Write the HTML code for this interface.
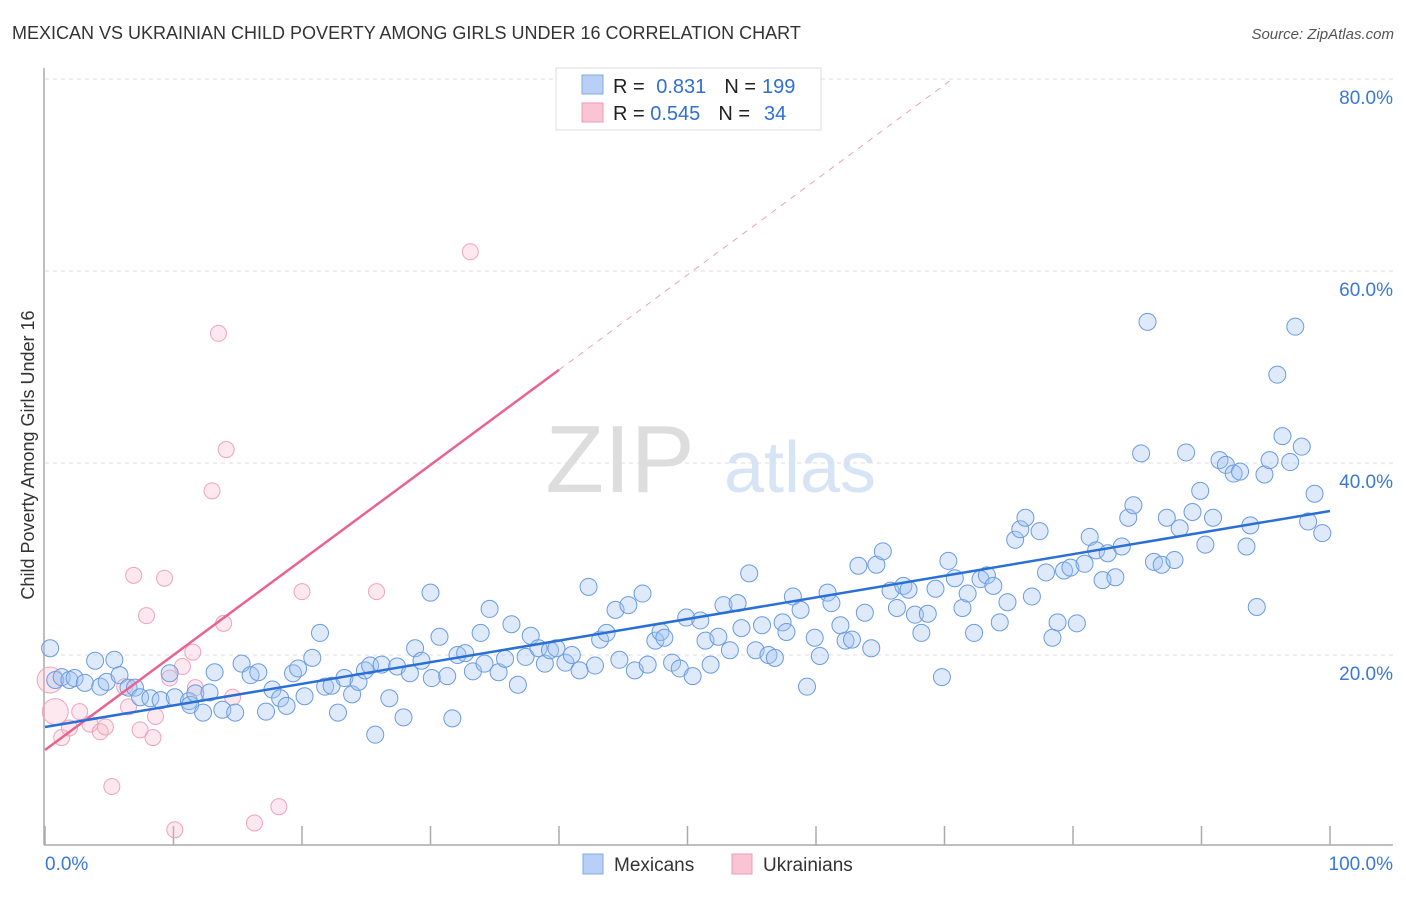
<!DOCTYPE html>
<html><head><meta charset="utf-8"><style>
body{margin:0;background:#fff;font-family:"Liberation Sans",sans-serif;}
svg text{font-family:"Liberation Sans",sans-serif;}
</style></head><body>
<svg id="chart" width="1406" height="892" xmlns="http://www.w3.org/2000/svg">
<text x="12" y="39" font-size="18" fill="#333">MEXICAN VS UKRAINIAN CHILD POVERTY AMONG GIRLS UNDER 16 CORRELATION CHART</text>
<text x="1394" y="39" font-size="15" fill="#555" font-style="italic" text-anchor="end">Source: ZipAtlas.com</text>
<text x="620" y="492" font-size="96" fill="#ddd" font-family="Liberation Serif" text-anchor="middle">ZIP</text>
<text x="800" y="492" font-size="72" fill="#d6e4f5" text-anchor="middle">atlas</text>
<g id="grid"></g>
<g id="marks"></g>
<text transform="translate(34,455) rotate(-90)" font-size="18" fill="#333" text-anchor="middle">Child Poverty Among Girls Under 16</text>
<g>
<rect x="556" y="68" width="265" height="62" fill="#fff" stroke="#ddd"/>
<rect x="582" y="75" width="21" height="19" fill="#b8d0f5" stroke="#80a8e8"/>
<rect x="582" y="103" width="21" height="19" fill="#f9c4d4" stroke="#ee9ab4"/>
<text x="613" y="93" font-size="20" fill="#222">R = <tspan fill="#2f6fd4" dx="6">0.831</tspan><tspan dx="18" fill="#222">N =</tspan><tspan fill="#2f6fd4" dx="6">199</tspan></text>
<text x="613" y="120" font-size="20" fill="#222">R = <tspan fill="#2f6fd4">0.545</tspan><tspan dx="18" fill="#222">N =</tspan><tspan fill="#2f6fd4" dx="14">34</tspan></text>
</g>
<g>
<rect x="583" y="854" width="20" height="20" fill="#b8d0f5" stroke="#80a8e8"/>
<text x="614" y="871" font-size="19" fill="#333">Mexicans</text>
<rect x="732" y="854" width="20" height="20" fill="#f9c4d4" stroke="#ee9ab4"/>
<text x="763" y="871" font-size="19" fill="#333">Ukrainians</text>
</g>
</svg>
<script>
const yTicks=[20,40,60,80];
const yTickLabels=["20.0%","40.0%","60.0%","80.0%"];
const xTicks=[0,10,20,30,40,50,60,70,80,90,100];
const mexX=[0.4,0.8,1.3,1.9,2.3,3.1,3.9,4.3,4.8,5.4,5.8,6.5,7.0,7.4,8.2,9.0,9.7,10.1,11.2,11.3,11.7,12.3,12.8,13.2,13.8,14.8,15.3,16.0,16.6,17.2,17.7,18.3,18.8,19.3,19.7,20.2,20.8,21.4,21.8,22.3,22.8,23.3,23.9,24.4,24.9,25.3,25.7,26.2,26.8,27.4,27.9,28.4,28.8,29.3,30.0,30.1,30.7,31.3,31.7,32.1,32.7,33.3,33.9,34.2,34.6,35.3,35.8,36.3,36.8,37.4,37.8,38.4,38.9,39.3,39.8,40.5,41.0,41.6,42.3,42.8,43.2,43.7,44.4,44.7,45.4,45.9,46.5,46.9,47.5,47.9,48.2,48.8,49.4,49.9,50.4,51.0,51.4,51.8,52.4,52.8,53.3,53.9,54.2,54.8,55.3,55.8,56.3,56.8,57.4,57.7,58.2,58.8,59.3,59.9,60.3,60.9,61.2,61.9,62.3,62.8,63.3,63.8,64.3,64.7,65.2,65.8,66.3,66.8,67.2,67.7,68.2,68.7,69.3,69.8,70.3,70.8,71.4,71.8,72.3,72.8,73.3,73.8,74.3,74.9,75.5,75.9,76.3,76.8,77.4,77.9,78.4,78.8,79.3,79.8,80.3,80.9,81.3,81.8,82.3,82.7,83.3,83.8,84.3,84.7,85.3,85.8,86.3,86.9,87.3,87.9,88.3,88.8,89.3,89.9,90.3,90.9,91.4,91.9,92.5,93.0,93.5,93.8,94.3,94.9,95.3,95.9,96.3,96.9,97.3,97.8,98.3,98.8,99.4];
const mexY=[20.7,17.4,17.7,17.4,17.6,17.1,19.4,16.7,17.2,19.5,17.9,16.6,16.6,15.6,15.5,15.3,18.1,15.6,15.2,14.8,16.0,14.0,16.1,18.2,14.3,14.0,19.1,17.9,18.2,14.1,16.4,15.5,14.7,18.1,18.6,15.7,19.7,22.3,16.7,16.8,14.0,17.6,15.9,17.2,18.4,18.9,11.7,19.0,15.5,18.8,13.5,18.1,20.7,19.4,26.5,17.6,21.9,17.8,13.4,20.0,20.2,18.3,22.3,19.1,24.8,18.2,19.6,23.2,16.9,19.8,22.0,20.7,19.1,20.5,20.7,19.2,20.0,18.4,27.1,18.9,21.6,22.3,24.7,19.5,25.2,18.4,26.4,19.0,21.5,22.4,21.8,19.2,18.6,23.9,17.8,23.6,21.5,19.0,21.9,25.2,20.5,25.4,22.8,28.5,20.5,23.1,20.0,19.7,23.4,22.4,26.1,24.7,16.7,21.8,19.9,26.5,25.4,23.1,21.5,21.6,29.3,24.4,20.7,29.4,30.8,26.7,24.9,27.2,26.8,24.2,22.3,24.3,26.9,17.7,29.8,28.0,24.9,26.4,22.3,27.9,28.3,27.2,23.4,25.5,32.0,33.1,34.3,26.1,32.9,28.6,21.8,23.4,28.8,29.1,23.3,29.5,32.3,30.9,27.8,30.6,28.1,31.3,34.3,35.6,41.0,54.7,29.7,29.4,34.3,29.9,33.2,41.1,34.9,37.1,31.5,34.3,40.3,39.8,38.9,39.1,31.3,33.5,25.0,38.8,40.3,49.2,42.8,40.1,54.2,41.7,33.9,36.8,32.7];
const ukrX=[0.4,0.8,1.3,1.9,2.7,3.5,4.3,4.7,5.2,6.2,6.5,6.9,7.4,7.9,8.4,8.6,9.3,9.7,10.1,10.7,11.5,11.7,13.0,13.5,13.9,14.1,14.6,16.3,18.2,20.0,25.8,33.1];
const ukrY=[17.4,14.1,11.4,12.4,14.1,12.8,12.0,12.5,6.3,16.7,14.6,28.3,12.2,24.1,11.4,13.6,28.0,17.6,1.8,18.8,20.3,16.6,37.1,53.5,23.3,41.4,15.6,2.5,4.2,26.6,26.6,62.0];
const ukrBig=[1,1,0,0,0,0,0,0,0,0,0,0,0,0,0,0,0,0,0,0,0,0,0,0,0,0,0,0,0,0,0,0];
const mexLine=[12.5,35.0];
const ukrLine=[10.1,109.1];

const X0=45,X1=1330,YB=847,PPY=9.6;
const sx=v=>X0+(X1-X0)*v/100;
const sy=v=>YB-v*PPY;
const NS="http://www.w3.org/2000/svg";
const grid=document.getElementById('grid'),marks=document.getElementById('marks');
function mk(tag,attrs,parent){const e=document.createElementNS(NS,tag);for(const k in attrs)e.setAttribute(k,attrs[k]);parent.appendChild(e);return e;}
yTicks.forEach((t,i)=>{
 const l=mk('line',{x1:45,x2:1393,y1:sy(t),y2:sy(t),stroke:'#ddd','stroke-dasharray':'4,4'},grid);
 
 
 const tx=mk('text',{x:1393,y:sy(t)+25,'font-size':19,fill:'#3a78d8','text-anchor':'end'},grid);
 tx.textContent=yTickLabels[i];
 
 
});
const ax=mk('line',{x1:44,x2:44,y1:68,y2:845,stroke:'#aaa','stroke-width':1.5},grid);


const bx=mk('line',{x1:44,x2:1393,y1:845,y2:845,stroke:'#aaa','stroke-width':1.5},grid);


xTicks.forEach(t=>{
 const l=mk('line',{x1:sx(t),x2:sx(t),y1:826,y2:845,stroke:'#aaa','stroke-width':1.5},grid);
 
 
});
const xl0=mk('text',{x:45,y:870,'font-size':19,fill:'#3a78d8'},grid);xl0.textContent='0.0%';


const xl1=mk('text',{x:1393,y:870,'font-size':19,fill:'#3a78d8','text-anchor':'end'},grid);xl1.textContent='100.0%';



ukrX.forEach((x,i)=>{
 const c=mk('circle',{cx:sx(x),cy:sy(ukrY[i]),r:ukrBig[i]?13:8,fill:'rgba(246,178,200,0.3)',stroke:'#eea4ba','stroke-width':1},marks);
 
 
});
mexX.forEach((x,i)=>{
 const c=mk('circle',{cx:sx(x),cy:sy(mexY[i]),r:8.5,fill:'rgba(160,195,242,0.35)',stroke:'#6a9be2','stroke-width':1},marks);
 
 
});
const xe=(80-ukrLine[0])/(ukrLine[1]-ukrLine[0])*100;
const y40=ukrLine[0]+0.4*(ukrLine[1]-ukrLine[0]);
const d=mk('line',{x1:sx(40),y1:sy(y40),x2:sx(xe),y2:sy(80),stroke:'#eaa0b8','stroke-dasharray':'6,6','stroke-width':1},marks);


const ul=mk('line',{x1:sx(0),y1:sy(ukrLine[0]),x2:sx(40),y2:sy(y40),stroke:'#e8648e','stroke-width':2.5},marks);


const ml=mk('line',{x1:sx(0),y1:sy(mexLine[0]),x2:sx(100),y2:sy(mexLine[1]),stroke:'#2a6fd6','stroke-width':2.5},marks);


</script>
</body></html>
